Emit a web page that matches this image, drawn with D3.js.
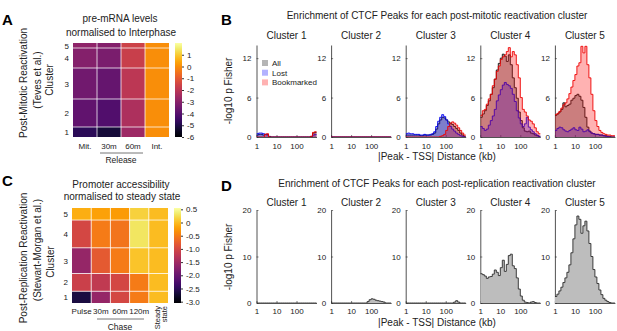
<!DOCTYPE html>
<html><head><meta charset="utf-8">
<script src="https://cdn.jsdelivr.net/npm/d3@7"></script>
<style>
body{margin:0;background:#fff;}
svg{display:block;font-family:"Liberation Sans",Arial,Helvetica,sans-serif;}
</style>
</head><body>
<svg id="c" width="617" height="331"></svg>
<script>
// ---------------- DATA ----------------
// Panel A heatmap: pre-mRNA levels normalised to interphase
const aColumns = ["Mit.", "30m", "60m", "Int."];
const aClusters = ["1", "2", "3", "4", "5"];
const aClusterSizes = [10, 28, 31, 20, 5];
const aValues = [
  [-4.8, -5.2, -2.6, 0],
  [-3.8, -4.1, -2.3, 0],
  [-3.5, -3.7, -2.0, 0],
  [-3.1, -3.3, -1.7, 0],
  [-2.9, -3.1, -1.6, 0]
];
const aColorTicks = [1, 0, -1, -2, -3, -4, -5, -6];

// Panel C heatmap: promoter accessibility normalised to steady state
const cColumns = ["Pulse", "30m", "60m", "120m", "Steady state"];
const cClusters = ["1", "2", "3", "4", "5"];
const cClusterSizes = [11.7, 17.7, 25.6, 27.7, 12];
const cValues = [
  [-2.65, -1.6, -1.0, -0.5, 0],
  [-1.1, -1.2, -1.0, -0.5, 0],
  [-1.6, -0.8, -0.5, 0.05, 0],
  [-1.0, -0.5, -0.55, 0.3, 0],
  [-0.1, -0.2, -0.25, 0.15, 0]
];
const cColorTicks = [0.5, 0, -0.5, -1.0, -1.5, -2.0, -2.5, -3.0];
const cColorTickLabels = ["0.5", "0", "-0.5", "-1.0", "-1.5", "-2.0", "-2.5", "-3.0"];

// Histogram bins: log10 distance bins of 0.1 from 1 kb to 1000 kb
const binCount = 30;
const xTickValues = [1, 10, 100];
const bYTicks = [0, 6, 12];
const dYTicks = [0, 10, 20];
const clusterNames = ["Cluster 1", "Cluster 2", "Cluster 3", "Cluster 4", "Cluster 5"];
const bLegendLabels = ["All", "Lost", "Bookmarked"];

// Panel B: -log10 p (All / Lost / Bookmarked) per cluster
const bAll1  = [0.3,0.4,0.4,0.3,0.4,0.4,0.1,0,0,0,0,0,0,0,0,0,0,0,0,0,0,0,0,0,0,0,0,0.1,0.6,0.7];
const bLost1 = [0.5,0.6,0.6,0.5,0.4,0.3,0,0,0,0,0,0,0,0,0,0,0,0,0,0,0,0,0,0,0,0,0,0,0.3,0.4];
const bBm1   = [0,0,0,0,0.4,0.5,0,0,0,0,0,0,0,0,0,0,0,0,0,0,0,0,0,0,0,0,0,0.1,0.7,0.8];
const bAll2  = [0,0,0,0,0,0,0,0,0,0,0,0,0,0,0,0,0,0,0,0,0,0,0,0,0,0,0,0,0,0];
const bLost2 = [0,0,0,0,0,0,0,0,0,0,0,0,0,0,0,0,0,0,0,0,0,0,0,0,0,0,0,0,0,0];
const bBm2   = [0,0,0,0,0,0,0,0,0,0,0,0,0,0,0,0,0,0,0,0,0,0,0,0,0,0,0,0,0,0];
const bAll3  = [0.3,0.3,0.3,0.3,0.3,0.3,0.3,0.2,0.2,0.3,0.3,0.3,0.3,0.4,0.6,1.2,2.0,2.6,3.0,2.9,2.6,2.3,2.1,1.9,1.6,1.3,1.0,0.6,0.3,0.1];
const bLost3 = [0.5,0.6,0.5,0.5,0.4,0.4,0.4,0.3,0.3,0.4,0.3,0.3,0.4,0.5,0.8,1.6,2.4,3.0,3.4,3.1,2.6,2.0,1.6,1.2,0.9,0.6,0.4,0.2,0.1,0];
const bBm3   = [0,0,0,0,0,0,0,0,0,0,0,0,0,0,0,0,0,0.1,0.2,0.4,1.0,1.6,2.1,2.3,2.1,1.8,1.4,1.0,0.6,0.3];
const bAll4  = [3.0,3.5,4.0,4.8,5.5,6.5,7.5,8.8,10.2,11.2,12.0,12.6,12.3,11.5,12.5,11.0,9.0,7.5,5.9,3.8,2.5,1.4,0.9,0.8,0.9,0.6,0.5,0.3,0.2,0.1];
const bLost4 = [1.6,1.3,1.0,1.2,1.8,2.5,3.2,4.2,5.5,6.4,7.2,7.9,8.3,8.0,7.8,7.4,6.5,5.4,4.0,2.9,2.0,1.6,2.0,3.0,1.5,1.1,0.8,0.5,0.3,0.1];
const bBm4   = [3.3,4.0,4.2,5.0,5.8,6.5,7.8,8.8,10.0,10.8,11.8,12.2,12.5,13.0,13.6,12.2,13.0,12.5,11.0,9.0,6.0,4.2,3.8,3.2,2.6,2.4,2.0,1.4,0.8,0.5];
const bAll5  = [3.3,3.5,3.8,4.2,5.2,4.6,4.8,5.0,5.6,5.9,6.3,6.5,6.2,5.6,4.5,3.0,1.5,0.9,0.6,0.5,0.4,0.4,0.3,0.3,0.2,0.2,0.1,0.1,0,0];
const bLost5 = [1.0,1.3,1.5,1.4,1.1,0.9,0.8,1.0,1.2,1.4,1.1,1.0,1.5,1.2,0.8,0.9,1.1,0.8,0.6,0.5,0.4,0.4,0.3,0.3,0.2,0.1,0.1,0,0,0];
const bBm5   = [3.4,3.6,3.9,4.4,4.9,5.2,5.8,6.6,7.6,8.6,9.5,10.8,11.3,13.8,12.8,13.8,11.0,9.0,6.5,4.0,2.5,1.6,1.0,0.7,0.5,0.4,0.3,0.3,0.2,0.2];

// Panel D: -log10 p per post-replication cluster
const d1 = [0,0,0,0,0,0,0,0,0,0,0,0,0,0,0,0,0,0,0,0,0,0,0,0,0,0,0,0,0,0];
const d2 = [0,0,0,0,0,0,0,0,0,0,0,0,0,0,0,0,0,0,0.3,0.7,0.9,0.8,0.6,0.5,0.4,0.3,0.2,0,0,0];
const d3v = [0,0,0,0,0,0,0,0,0,0,0,0,0,0,0,0,0,0,0,0,0,0,0,0,0.2,0.5,0.2,0,0,0];
const d4 = [6.3,6.1,5.8,5.3,5.6,5.7,6.2,7.1,6.6,5.9,7.6,9.2,6.8,8.3,10.2,10.5,8.0,7.4,5.4,3.0,1.5,0.6,0.2,0.1,0,0.2,0.3,0.1,0,0];
const d5 = [1.4,1.9,2.6,3.4,4.4,5.4,6.6,8.2,10.8,13.8,16.8,18.7,18.0,15.0,16.6,17.6,15.5,12.8,10.0,7.2,5.6,4.2,2.8,1.8,1.0,0.6,0.3,0.1,0,0];

// ---------------- DRAWING ----------------
const svg = d3.select("#c");
const defs = svg.append("defs");
const TXT = "#222";

function text(x, y, s, size, opts = {}) {
  const t = svg.append("text").attr("x", x).attr("y", y).text(s)
    .attr("font-size", size).attr("fill", opts.fill || TXT)
    .attr("text-anchor", opts.anchor || "middle");
  if (opts.bold) t.attr("font-weight", "bold");
  if (opts.rotate) t.attr("transform", `rotate(${opts.rotate},${x},${y})`);
  return t;
}

// Panel letters
text(2, 25, "A", 15, {anchor: "start", bold: true, fill: "#000"});
text(221, 25, "B", 15, {anchor: "start", bold: true, fill: "#000"});
text(2, 186, "C", 15, {anchor: "start", bold: true, fill: "#000"});
text(221, 191, "D", 15, {anchor: "start", bold: true, fill: "#000"});

let uid = 0;
function heatmap(cfg) {
  const g = svg.append("g");
  const x = d3.scaleBand().domain(cfg.cols).range([cfg.left, cfg.right]);
  const total = d3.sum(cfg.sizes);
  const y = d3.scaleLinear().domain([0, total]).range([cfg.bottom, cfg.top]);
  const cum = [0];
  cfg.sizes.forEach((s, i) => cum.push(cum[i] + s));
  const color = d3.scaleSequential(d3.interpolateInferno).domain(cfg.domain);
  cfg.values.forEach((row, i) => {
    row.forEach((v, j) => {
      g.append("rect")
        .attr("x", x(cfg.cols[j])).attr("width", x.bandwidth())
        .attr("y", y(cum[i + 1])).attr("height", y(cum[i]) - y(cum[i + 1]))
        .attr("fill", color(v));
    });
  });
  for (let i = 1; i < cfg.sizes.length; i++) {
    g.append("line").attr("x1", cfg.left).attr("x2", cfg.right)
      .attr("y1", y(cum[i])).attr("y2", y(cum[i]))
      .attr("stroke", "rgba(255,255,255,0.75)").attr("stroke-width", 1);
  }
  for (let j = 1; j < cfg.cols.length; j++) {
    const xx = x(cfg.cols[j]);
    g.append("line").attr("x1", xx).attr("x2", xx).attr("y1", cfg.top).attr("y2", cfg.bottom)
      .attr("stroke", "rgba(255,255,255,0.75)").attr("stroke-width", 1);
  }
  cfg.clusters.forEach((c, i) => {
    text(cfg.left - 4, (y(cum[i]) + y(cum[i + 1])) / 2 + 3, c, 8, {anchor: "end"});
  });
  const id = "grad" + (uid++);
  const grad = defs.append("linearGradient").attr("id", id)
    .attr("x1", 0).attr("y1", 1).attr("x2", 0).attr("y2", 0);
  d3.range(0, 1.0001, 0.05).forEach(t => grad.append("stop")
    .attr("offset", t).attr("stop-color", d3.interpolateInferno(t)));
  const cs = d3.scaleLinear().domain(cfg.domain).range([cfg.bottom, cfg.top]);
  g.append("rect").attr("x", cfg.cbX).attr("width", 7)
    .attr("y", cfg.top).attr("height", cfg.bottom - cfg.top)
    .attr("fill", `url(#${id})`);
  const ax = g.append("g").attr("transform", `translate(${cfg.cbX + 7},0)`)
    .call(d3.axisRight(cs).tickValues(cfg.cbTicks).tickSize(2).tickPadding(3)
      .tickFormat((d, i) => cfg.cbLabels[i]));
  ax.select(".domain").remove();
  ax.selectAll("line").attr("stroke", "#333");
  ax.selectAll("text").attr("font-size", 8).attr("fill", TXT).attr("font-family", null);
  return {x, y};
}

// ---- Panel A ----
text(120, 22, "pre-mRNA levels", 10);
text(121, 36, "normalised to Interphase", 10);
const hA = heatmap({
  left: 73, right: 169, top: 43, bottom: 137,
  cols: aColumns, sizes: aClusterSizes, values: aValues, clusters: aClusters,
  domain: [-6, 2], cbX: 175, cbTicks: aColorTicks, cbLabels: aColorTicks.map(String)
});
aColumns.forEach(c => text(hA.x(c) + hA.x.bandwidth() / 2, 149, c, 8));
svg.append("line").attr("x1", 100).attr("x2", 143).attr("y1", 153).attr("y2", 153)
  .attr("stroke", "#777").attr("stroke-width", 1);
text(121, 163, "Release", 8.5);
text(27, 83, "Post-Mitotic Reactivation", 10, {rotate: -90});
text(41, 80, "(Teves et al.)", 10, {rotate: -90});
text(53, 80, "Cluster", 10, {rotate: -90});

// ---- Panel C ----
text(121, 188, "Promoter accessibility", 10);
text(122, 200, "normalised to steady state", 10);
const hC = heatmap({
  left: 72, right: 168, top: 208, bottom: 303,
  cols: cColumns, sizes: cClusterSizes, values: cValues, clusters: cClusters,
  domain: [-3.05, 0.55], cbX: 174, cbTicks: cColorTicks, cbLabels: cColorTickLabels
});
cColumns.slice(0, 4).forEach(c => text(hC.x(c) + hC.x.bandwidth() / 2, 313.5, c, 8));
{
  const xs = hC.x("Steady state") + hC.x.bandwidth() / 2;
  text(xs + 2, 306, "Steady", 7.5, {anchor: "end", rotate: -90});
  text(xs + 9, 306, "state", 7.5, {anchor: "end", rotate: -90});
}
svg.append("line").attr("x1", 97).attr("x2", 144).attr("y1", 319).attr("y2", 319)
  .attr("stroke", "#777").attr("stroke-width", 1);
text(120, 330, "Chase", 8.5);
text(27, 258, "Post-Replication Reactivation", 10, {rotate: -90});
text(41, 250, "(Stewart-Morgan et al.)", 10, {rotate: -90});
text(54, 262, "Cluster", 10, {rotate: -90});

// ---- Small multiples ----
const edges = d3.range(binCount + 1).map(i => Math.pow(10, i / 10));
function smallPlot(cfg) {
  const g = svg.append("g");
  const x = d3.scaleLog().domain([1, 1000]).range([cfg.left, cfg.left + 60]);
  const y = d3.scaleLinear().domain([0, cfg.yMax]).range([cfg.bottom, cfg.top]);
  const clip = "clip" + (uid++);
  defs.append("clipPath").attr("id", clip).append("rect")
    .attr("x", cfg.left).attr("y", cfg.top - 2).attr("width", 62).attr("height", cfg.bottom - cfg.top + 2);
  const yAx = g.append("g").attr("transform", `translate(${cfg.left},0)`)
    .call(d3.axisLeft(y).tickValues(cfg.yTicks).tickSizeInner(-2).tickSizeOuter(0).tickPadding(5));
  const xAx = g.append("g").attr("transform", `translate(0,${cfg.bottom})`)
    .call(d3.axisBottom(x).tickValues(xTickValues).tickFormat(d3.format("d"))
      .tickSizeInner(-2).tickSizeOuter(0));
  [yAx, xAx].forEach(a => {
    a.select(".domain").attr("stroke", "#262626").attr("stroke-width", 0.8);
    a.selectAll(".tick line").attr("stroke", "#262626").attr("stroke-width", 0.6);
    a.selectAll("text").attr("font-size", 8).attr("fill", TXT).attr("font-family", null);
  });
  yAx.selectAll("text").attr("dy", "0.32em");
  xAx.selectAll("text").attr("y", cfg.xLabelOffset).attr("dy", 0);
  const dg = g.append("g").attr("clip-path", `url(#${clip})`);
  cfg.series.forEach(s => {
    const pts = s.values.map((v, i) => [edges[i], v]).concat([[edges[binCount], s.values[binCount - 1]]]);
    const area = d3.area().x(d => x(d[0])).y0(y(0)).y1(d => y(d[1])).curve(d3.curveStepAfter);
    const line = d3.line().x(d => x(d[0])).y(d => y(d[1])).curve(d3.curveStepAfter);
    dg.append("path").attr("d", area(pts)).attr("fill", s.fill);
    dg.append("path").attr("d", line(pts)).attr("fill", "none")
      .attr("stroke", s.stroke).attr("stroke-width", 0.9);
  });
  text(cfg.left + 30, cfg.titleY, cfg.title, 10);
  return {x, y};
}

const allStyle = {fill: "rgba(90,90,90,0.45)", stroke: "#111"};
const lostStyle = {fill: "rgba(0,0,255,0.3)", stroke: "#0000ee"};
const bmStyle = {fill: "rgba(255,0,0,0.3)", stroke: "#ee0000"};
const bData = [
  [bAll1, bLost1, bBm1], [bAll2, bLost2, bBm2], [bAll3, bLost3, bBm3],
  [bAll4, bLost4, bBm4], [bAll5, bLost5, bBm5]
];
const dData = [d1, d2, d3v, d4, d5];
const plotLeft = 256.5, plotStep = 74.6;

// ---- Panel B ----
text(437, 19, "Enrichment of CTCF Peaks for each post-mitotic reactivation cluster", 10);
bData.forEach((ser, i) => {
  smallPlot({
    left: plotLeft + i * plotStep, top: 45, bottom: 137, yMax: 14, yTicks: bYTicks,
    xLabelOffset: 11.5, title: clusterNames[i], titleY: 39,
    series: [
      {values: ser[0], ...allStyle},
      {values: ser[1], ...lostStyle},
      {values: ser[2], ...bmStyle}
    ]
  });
});
text(437, 159.5, "|Peak - TSS| Distance (kb)", 10);
text(231.5, 91, "-log10 p Fisher", 10, {rotate: -90});
const legFill = [allStyle.fill, lostStyle.fill, bmStyle.fill];
bLegendLabels.forEach((l, i) => {
  svg.append("rect").attr("x", 262).attr("y", 60 + i * 9.7).attr("width", 6).attr("height", 6)
    .attr("fill", legFill[i]);
  text(272, 66 + i * 9.7, l, 8, {anchor: "start"});
});

// ---- Panel D ----
text(437, 187, "Enrichment of CTCF Peaks for each post-replication reactivation cluster", 10);
dData.forEach((v, i) => {
  smallPlot({
    left: plotLeft + i * plotStep, top: 210, bottom: 303, yMax: 20, yTicks: dYTicks,
    xLabelOffset: 10.5, title: clusterNames[i], titleY: 206,
    series: [{values: v, fill: "#bdbdbd", stroke: "#2a2a2a"}]
  });
});
text(437, 326, "|Peak - TSS| Distance (kb)", 10);
text(231.5, 257, "-log10 p Fisher", 10, {rotate: -90});
</script>
</body></html>
